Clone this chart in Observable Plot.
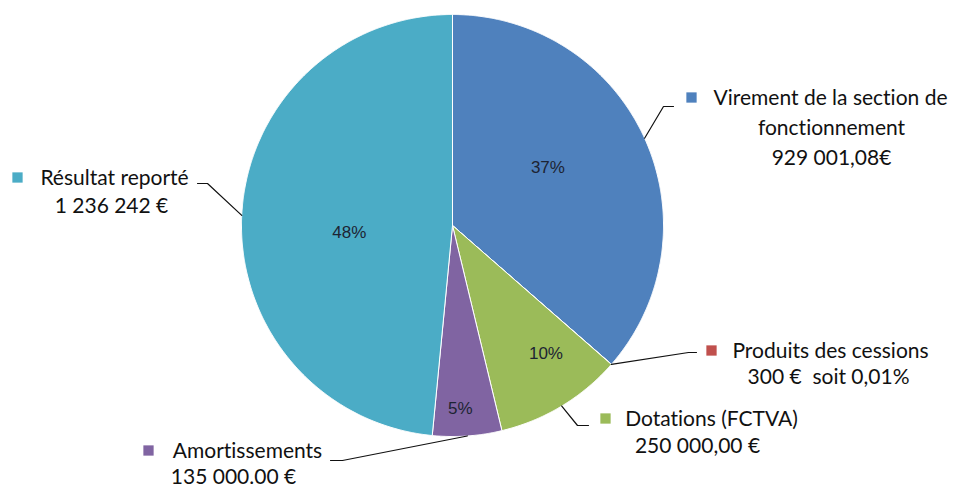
<!DOCTYPE html>
<html><head><meta charset="utf-8">
<script src="https://cdn.jsdelivr.net/npm/d3@7"></script>
<script src="https://cdn.jsdelivr.net/npm/@observablehq/plot@0.6"></script>
<style>
body{margin:0;background:#fff;}
#chart{width:957px;height:489px;}
#chart text{font-variant-ligatures:none;}
</style>
</head><body><div id="chart"></div>
<script>
// ---- data ----
const categories = ["Virement de la section de fonctionnement", "Produits des cessions", "Dotations (FCTVA)", "Amortissements", "Résultat reporté"];
const values = [929001.08, 300, 250000, 135000, 1236242];
const percentLabels = ["37%", "", "10%", "5%", "48%"];
const labelLines = [
  ["Virement de la section de", "fonctionnement", "929 001,08€"],
  ["Produits des cessions", "300 €  soit 0,01%"],
  ["Dotations (FCTVA)", "250 000,00 €"],
  ["Amortissements", "135 000.00 €"],
  ["Résultat reporté", "1 236 242 €"]
];
const colors = ["#4F81BD", "#C0504D", "#9BBB59", "#8064A2", "#4BACC6"];

// ---- layout (pixels) ----
const W = 957, H = 489, CX = 452, CY = 225, R = 211;
const pctLayout = [{frac: 0.53, da: -7}, null, {frac: 0.75, da: -5}, {frac: 0.87, da: 1.6}, {frac: 0.49, da: -6.7}];
const callouts = [
  {path: [[663, 106], [673, 106]], key: [691, 97], lines: [[830, 98], [831, 128], [831, 158]]},
  {path: [[688, 352], [696, 352]], key: [711, 350], lines: [[830, 351], [828, 377]]},
  {path: [[577, 425], [588, 425]], key: [605, 418], lines: [[711, 419], [697, 446]]},
  {path: [[342, 460], [330, 460]], key: [148, 450], lines: [[247, 451], [233, 477]]},
  {path: [[207, 183], [197, 183]], key: [17, 177], lines: [[114, 178], [111, 206]]}
];

// ---- geometry from data ----
const arcs = d3.pie().sort(null).value(d => d)(values);
const pt = (a, r) => [CX + r * Math.sin(a), CY - r * Math.cos(a)];
const slicePts = [];
arcs.forEach((a, i) => {
  const n = Math.max(2, Math.ceil((a.endAngle - a.startAngle) / 0.005));
  const c = pt(0, 0);
  slicePts.push({k: i, x: c[0], y: c[1]});
  for (let j = 0; j <= n; j++) {
    const p = pt(a.startAngle + (a.endAngle - a.startAngle) * j / n, R);
    slicePts.push({k: i, x: p[0], y: p[1]});
  }
  slicePts.push({k: i, x: c[0], y: c[1]});
});
const mid = a => (a.startAngle + a.endAngle) / 2;

const pctData = arcs.map((a, i) => {
  if (!pctLayout[i]) return null;
  const p = pt(mid(a) + pctLayout[i].da * Math.PI / 180, R * pctLayout[i].frac);
  return {x: p[0], y: p[1], t: percentLabels[i]};
}).filter(d => d);

const leaderPts = [];
arcs.forEach((a, i) => {
  const e = pt(mid(a), R);
  leaderPts.push({k: i, x: e[0], y: e[1]});
  callouts[i].path.forEach(p => leaderPts.push({k: i, x: p[0], y: p[1]}));
});

const keys = callouts.map((c, i) => ({x: c.key[0], y: c.key[1], k: i}));
const textRows = [];
callouts.forEach((c, i) => c.lines.forEach((p, j) => textRows.push({x: p[0], y: p[1], t: labelLines[i][j]})));

const chart = Plot.plot({
  width: W, height: H,
  margin: 0,
  x: {domain: [0, W], range: [0, W], axis: null},
  y: {domain: [0, H], range: [0, H], axis: null},
  color: {domain: d3.range(categories.length), range: colors},
  style: {background: "#fff"},
  marks: [
    Plot.line(slicePts, {x: "x", y: "y", z: "k", fill: "k", stroke: "#fff", strokeWidth: 1, strokeLinejoin: "round"}),
    Plot.text(pctData, {x: "x", y: "y", text: "t", fontSize: 17, fontFamily: "Liberation Sans, Arial, sans-serif", fill: "#1d2433", textAnchor: "middle"}),
    Plot.line(leaderPts, {x: "x", y: "y", z: "k", stroke: "#111", strokeWidth: 1.2}),
    Plot.dot(keys, {x: "x", y: "y", fill: "k", symbol: "square", r: 5.8, stroke: "none"}),
    Plot.text(textRows, {x: "x", y: "y", text: "t", fontSize: 21, fontFamily: "Lato, 'Open Sans', sans-serif", fill: "#111", textAnchor: "middle"})
  ]
});
document.getElementById("chart").appendChild(chart);
</script>
</body></html>
